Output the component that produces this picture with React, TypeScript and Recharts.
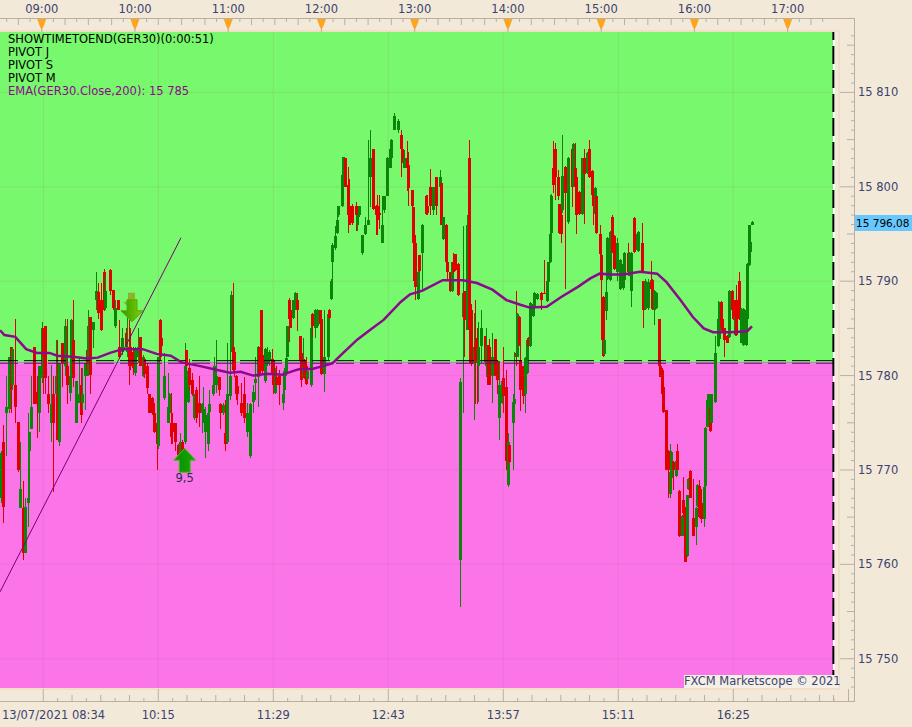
import React from 'react';
import { ComposedChart, Bar, Line, XAxis, YAxis, ReferenceArea, ReferenceLine, ReferenceDot } from 'recharts';

// all prices are kept relative to this level, minutes are counted from 08:34
const priceBase = 15780;

// [minute, high, low, open, close]
const candles0834 = [
  [0,-8,-13.5,-13,-8.2],[1,-5.2,-15.6,-7,-13.9],[3,0,-8.5,-4,-3.3],[5,2,-4,-3.5,2],[6,3,-4,3,-1.5],[7,3,-1.5,-1,2.8],
  [9,6,-5,-1,-3.3],[11,-4.9,-10.2,-4.9,-10],[12,-7,-14,-14,-12],[14,-11.2,-19.5,-14,-18.8],[15,-13,-18.8,-18.8,-13.9],
  [17,-4,-16,-13.5,-13],[18,-6,-13.5,-8,-6],[19,0,-5.7,-5.7,-3.3],[21,3,-3,3,-3],[23,0,-6.6,-1.7,-3],[24,1,-6,-4,1],
  [26,5.7,-0.8,-0.3,5],[27,5,-1.9,5,2],[28,5.2,-2,5.2,-0.3],[30,0,-4,-2,-3],[32,1.1,-7,-5,-3],[33,0,-12.3,-2,-5],
  [35,3.8,-3.6,-2,0],[36,3.8,-6.8,-2.2,-6.8],[37,1.3,-7.5,-7,1.3],[39,3.4,-1.2,3.4,1.3],[41,6,0,1,5.2],[42,6,-3,1,-1],
  [44,1,-2.7,-1.8,0],[45,6,0,1,5.9],[46,8,-1.2,3.8,-0.3],[48,-0.6,-5,-5,-0.6],[50,2,-2.9,-2.9,-1.9],[51,0.8,-5,-1,-4.2],
  [52,0.8,-3.6,-2.9,-2],[54,1.3,-3.6,0,1.3],[55,2.7,0,2.7,0.6],[56,7,0,0.1,5.2],[57,6.2,-1.9,6.2,0.1],[59,5.7,2.9,4.8,5.7],
];
const candles0935 = [
  [61,11,7,8,9],[62,9.8,6,8.9,6.6],[64,9.8,4.7,8,4.8],[66,11.3,6.8,11,7],[67,10.5,7,7.2,9],[70,11.3,8.5,11.2,9],
  [72,9,6.9,9.1,7.2],[73,8,5,5.2,7.2],[75,8,6.9,8,7],[76,5.9,1.8,3,2],[78,5,2.2,2.5,4],[80,5,2.7,4.5,3],[81,7,2,2.5,3],
  [82,6,-1,3,1],[83,5,0.6,3,1],[85,3,0.1,2.5,0.8],[86,3,0,0.3,2.7],[88,5,1.3,2,3],[89,4.1,1,4.1,1],[91,2.2,-0.1,0,2],
  [92,1.8,-0.3,1.8,0.2],[94,1.3,-1.9,1,-1.3],[95,-1.9,-4,-1.9,-4],[97,-2.3,-4.2,-2.4,-4],[98,-2.9,-6.1,-4,-6],
  [100,-5,-10,-5,-7.2],[101,2,-7.8,-7.5,2],[102,6,1.7,5.9,2],[103,4,3,4,3.1],[105,2.4,-2.6,-2.4,0],[107,0.3,-5,-5,-3.3],
  [108,-1.8,-4,-4,-2],[109,-1.8,-7.2,-5,-6.5],[110,-4,-7.2,-5,-6],[112,-5,-8,-5,-7],[114,-7.2,-8.6,-7.4,-8.4],
  [115,-6.1,-8.6,-8.4,-7],[116,-6.8,-8.6,-7,-8.4],[118,3.4,-7.2,-7,1],[119,2.7,1,2.7,1],
];
const candles1054 = [
  [120,0.6,-2.9,-2.8,0.5],[121,1.8,-1.5,0.8,-1],[123,0.3,-2.2,-0.5,-2],[124,-1.9,-4.7,-4.5,-2],[125,-1.2,-5,-1.5,-4.5],
  [127,0,-5.4,-2.9,-4],[129,-2.9,-6.1,-4,-3],[130,-1.2,-5,-4.8,-3.5],[131,-3.3,-8.7,-6,-4.2],[133,-3.3,-8,-7.2,-4],
  [134,-1.5,-4,-3.9,-3],[136,0,-2.2,-2,-1],[137,2,-1.2,-1,1],[138,3.8,-1.8,-1,0],[140,-0.1,-2.2,-0.2,-1.5],
  [141,-2.9,-5.7,-3,-4],[143,-2.9,-4.2,-4,-3.1],[144,-2.6,-8,-6.1,-7.2],[145,3.4,-7.2,-7,-2],[147,4,-2.6,-2.2,0],
  [148,9,2.5,2.6,8.5],[149,9.8,0.5,3,0.6],[150,2.5,-0.1,2.5,0.6],[151,0.1,-2.6,0,-2],[152,-1,-3.1,-1.1,-2],
  [154,-0.8,-4.3,-2.9,-4],[156,-0.1,-5,-2,-4.5],[158,-2.9,-6.5,-6,-4],[160,-2.9,-8.7,-8.5,-3],[162,-1,-4,-2.8,-1.7],
  [163,2,-2.6,-0.8,-0.4],[165,3.1,-3.3,-0.1,3],[166,3,0.1,3,0.1],[167,7,2,7,2],[168,2.2,0.1,2.2,0.5],[170,2.9,-0.8,-0.6,2.8],
  [171,3,1,1.2,2.5],[172,2.7,1,1.5,2.5],[174,2.8,-1,1.8,0.3],[175,1.8,-2,1.7,-1],[176,0.8,-2,-1.8,0],[177,1,-1,-0.1,-1],
  [179,0.6,-3.1,0,-1],[181,-1,-3.6,-2.9,-2],[182,0.8,-1.9,-1.5,0.5],[183,2,0,0.2,1.9],[184,5.2,2,2,5.2],[185,8.2,3.6,8,6],
  [186,7,5,7,5],[188,8,6,6.1,8],[189,8.9,7,7.1,8.8],[190,8.7,4.7,8,7],[192,4.2,1.3,4.2,1.5],[193,2.5,-1.2,2.4,-0.5],
  [194,4,-0.3,-0.2,1],[195,1.8,-0.4,1.7,-0.3],[196,2,-1,1,-0.9],[197,0.6,-0.5,-0.4,0.5],[199,5.2,-1.2,-1,5],[200,6.6,4.1,6.5,5.2],
  [202,7.1,4,5,7],[203,7.1,5,5.2,7],[205,7,4,7,5.5],[206,6.3,0.1,6,0.2],[208,7,-1.7,0.2,2],[210,6.6,1.7,2,6.5],[211,7.1,6,7,6.1],
];
const candles1206 = [
  [212,10.2,8,8.1,10],[213,14,10,12,13.8],[215,15.8,13.3,13.5,14.8],[216,17,15,15.1,16.5],[217,18,16.8,17,18],[219,21.3,17.9,18,21.2],
  [220,23.2,21,21,23.2],[221,23.1,20,23,20],[223,22.1,15.1,20.2,17],[224,20.8,16,18,16],[226,18.2,16,18,16.2],[228,18.4,15.3,18,17],
  [229,17,15.3,16,17],[230,18,16.8,17,18],[232,14.9,12.8,13,14.9],[234,16.8,14.9,15,16],[236,25,16,16,16.5],[237,26,17.9,21,23],
  [239,24,17.5,24,17.6],[241,18.1,14.9,18,17],[242,19.1,14.9,18,16.5],[243,19.1,15.5,17.2,17],[245,19,14,14,16],[246,19,17.2,17.5,19],
  [248,23.2,19,19,23],[250,24.1,22,22,24],[251,25.1,23,23,25],[253,27.8,26,26,27.5],[255,27.2,25.7,26,27],[257,26,21,25.5,24],
  [258,24,22.5,24,22.6],[259,23.9,22,22,23],[261,24.8,19.6,23,22],[262,23.7,18,22.3,19.9],[264,19.7,16.8,19.7,18],[265,17.9,10,17.9,14],
  [266,14.9,8,14,9.4],[268,11.5,8,8.1,11],[269,12.8,11,12.8,11.1],[271,16.1,9,13,16],[273,19.1,17,19,17.1],[274,19.1,17,18,17.2],
  [276,21.9,17,20,18],[278,20,17,17.5,20],[280,21,17,21,18],[282,21.8,19.5,20,21],[283,20.4,16,20.4,16],[284,16.8,14.4,14.5,16.8],
  [286,16.1,11.2,16,12],[287,14,10.1,12,11],[289,11,8.9,11,9],[290,12,8.9,9,12],[291,13,10.8,12,11],[292,12.9,11.1,12.9,11.2],
  [294,11.9,8.4,11.8,8.5],
];
const candles1329 = [
  [295,-0.3,-24.5,-19.5,-0.7],[297,15.8,-4,6.2,8.7],[298,9,2,9,5.9],[300,17,4.8,4.8,16],[301,25,1.3,23.1,4.9],[302,7.6,1,7,1.2],
  [304,6.6,-4.7,1.3,3],[305,8,-3,3.5,1.5],[306,5,-3,4,1.3],[307,5.7,-2.8,1,3],[309,6.9,1.3,3.1,5],[311,4.2,1.3,4.2,1.4],[312,5,-0.1,1,3],
  [313,3.2,-1,3.2,-1],[314,3.9,-1,3,-1],[316,4.5,-2.9,0,2],[318,3.9,0,3.9,0],[319,1.6,-1.9,1.5,-0.5],[320,1.5,-6.8,-4.5,-1],
  [322,-0.5,-3,-2.9,-0.6],[323,3,-4,-0.3,-2.2],[325,0.6,-10,-1.2,-9],[326,-6.1,-11.8,-11.6,-7],[327,-7.4,-9.3,-7.4,-9.2],
  [329,-1.9,-10,-5,-2.8],[330,2.5,-3.7,-3,-2.5],[331,9,1,2.4,2],[332,6.6,2,2,6.5],[333,6.3,3.1,6.2,3.2],[334,5,-3.8,1.6,-1.5],
  [336,1,-3,1,-2.2],[337,2,-4,-2,1.9],[338,3.9,0.2,0.3,3.8],[339,4.1,3,4,3.1],[340,7.8,3,3.1,7.7],[342,7.8,6.2,6.3,7.6],
  [343,8.9,7.2,7.3,8.8],[345,8.7,8,8.1,8.6],[347,8.9,7,8.8,8],[349,12.2,8.7,8.8,8.7],[351,10.8,7.8,7.9,10],[352,12,9.8,9.9,12],
  [353,19.1,11.9,12,15],[354,19.2,15,15.1,19],[355,24.8,19.3,22,20.2],[356,24.6,18.6,24,21],[358,21.8,18.6,21,19],[359,18.2,15,18.2,15.1],
  [360,19.8,14,17,15],[361,25.5,17.2,17.5,21.1],[363,22.2,9.2,22.1,19.3],[365,23.2,16.1,16.3,23],[367,24,17.9,24,20],[368,24.6,20,20.1,24.5],
  [369,24.6,19,22,20],[370,21,15,21,17],[372,19.6,17,19.5,17.1],[374,23,17,17.1,23],[375,24,16.1,23,21.4],[377,23.7,21.4,21.5,23.6],
  [378,25,20.9,24,21],[380,21.8,19,21.7,19.1],[381,20.4,15.9,19,18],[382,20,17,17.1,19.9],[383,19,15,19,15.1],
];
const candles1457 = [
  [385,16,12.8,15,12.9],[386,14.9,3.8,12.8,10.1],[387,8.4,2,8.3,2.1],[388,3.9,2.2,2.3,3.8],[389,10.2,5.9,6.8,8.9],[390,14.7,10.1,10.2,14.6],
  [392,15.3,10,10.1,15.2],[393,17,13,16.8,13.1],[394,14.9,11.2,14.8,11.3],[396,14.6,10,11,14],[398,12.3,9.1,9.2,12.2],[400,11.9,9.1,9.3,11.8],
  [401,13.1,10,10.1,13],[403,14,10.9,13,11],[404,13.1,10.5,10.6,13],[405,13.1,7.3,9,13],[407,16.8,13,16.7,13.1],[409,15.1,13.2,13.3,15],
  [410,15.3,13.1,13.2,15.2],[412,16.2,10.9,14,11],[413,10,5,10,7],[414,10.2,7,7.1,10],[416,10.2,7,7.2,9.9],[418,12.1,9.1,10.1,9.2],
  [419,10.2,7,10.1,7.1],[420,9.1,5.4,7,9],[421,8.9,7.1,7.2,8.8],[423,6,0.9,6,1],[424,1,-0.2,1,-0.1],[425,0.8,-1.9,0.6,-1.9],
  [426,-1.2,-4,-1.2,-3.9],[428,-3.7,-10,-3.7,-10],[429,-7.9,-13,-8,-10],[430,-7.2,-13,-12.5,-10.2],[431,-8,-11,-10.9,-8.1],
  [432,-9.1,-12.1,-9.2,-10],[434,-8.9,-10.7,-10.6,-9],[435,-7.2,-10,-8,-10],[436,-12.1,-17.1,-12.2,-17],[438,-14.8,-17,-17,-14.9],
  [439,-10.7,-15,-13.2,-14.6],[440,-13.9,-19.8,-14,-19.7],[441,-12.6,-19.2,-19.1,-12.7],[442,-10.9,-12.1,-12,-11],[443,-10,-13,-10.1,-13],
  [445,-11,-17,-15.1,-17],[447,-13.9,-17.9,-16,-14],[448,-11.5,-13.9,-13.8,-11.6],[449,-11.1,-15.1,-11.7,-15],[450,-12,-15.6,-13.5,-15.2],
  [452,-11.7,-16,-15.2,-11.8],[453,-5.5,-11.8,-11.7,-5.6],[454,-2.5,-5.5,-5.4,-2.6],[455,-1.9,-3.6,-3.5,-2],[456,-2.8,-6,-3.3,-5.9],
  [457,-1.9,-5,-5,-2],[459,4.2,-2.9,-2.8,2.4],[461,7.9,3,3.1,6],[462,7.8,3.8,3.9,7.7],[463,7.9,5,7.8,5.1],[464,6.1,4.5,6,4.6],
  [465,5,2,5,3.8],[467,4.3,3.4,4.2,3.5],[468,9.1,4,4.1,9],[470,9.1,6.8,9,6.9],[471,8,5.9,8,6],[472,6.3,4.2,4.3,6.2],[473,9.6,4.2,8,4.3],
  [475,11,5.9,10,6],[476,7.2,3.4,3.5,7.1],[477,7.2,3.1,3.2,7.1],[479,7,3.1,3.2,7],[480,11.9,5.9,6,11.8],[481,16,11.6,11.7,15.9],
  [482,14.2,13,13.1,14.1],[483,16.4,15.9,16,16.3],
];

const emaMinutes = [-0.8,2,9,16,23,31,36,46,55,62,70,78,91,100,109,116,128,139,147,154,162,171,181,188,192,200,207,213,220,229,237,246,257,263,271,284,297,306,316,325,334,340,351,360,371,379,385,392,400,411,422,428,437,445,452,458,469,480,483];
const emaValues = [4.8,4.3,4.1,2.8,2.4,2.4,2.1,2,1.8,1.9,2.4,2.8,2.8,2.3,2.1,1.4,1,0.6,0.3,0.4,0,0.2,0.1,0.5,0.7,0.7,1,1.3,2.4,3.8,4.8,5.9,7.8,8.6,9,10.1,10.1,9.8,9.1,8,7.5,7.2,7.3,8.3,9.4,10.3,10.8,10.7,10.7,11,10.8,9.9,8,6.2,5,4.6,4.6,4.7,5.2];

const hourMinutes = [26,86,146,206,266,326,386,446,506];
const hourLabels = ['09:00','10:00','11:00','12:00','13:00','14:00','15:00','16:00','17:00'];
const dateMinutes = [0,101,175,249,323,397,471];
const dateLabels = ['13/07/2021 08:34','10:15','11:29','12:43','13:57','15:11','16:25'];
const gridMinutes = [27,101,175,249,323,397,471];
const priceTicks = [15750,15760,15770,15780,15790,15800,15810];
const pivotTop = 15781.58;
const pivotBottom = 15781.3;
const zoneEdge = 15781.45;
const lastPrice = '15 796,08';
const legendLines = ['SHOWTIMETOEND(GER30)(0:00:51)','PIVOT J','PIVOT S','PIVOT M'];
const emaLabel = 'EMA(GER30.Close,200): 15 785';

const minMinute = -0.84;
const maxMinute = 535.8;
const minPrice = 15746.9;
const maxPrice = 15816.4;

const rows = [...candles0834, ...candles0935, ...candles1054, ...candles1206, ...candles1329, ...candles1457].map(
  ([minute, high, low, open, close]) => ({
    minute,
    range: [priceBase + low, priceBase + high],
    high: priceBase + high,
    low: priceBase + low,
    open: priceBase + open,
    close: priceBase + close,
  })
);
const emaRows = emaMinutes.map((minute, i) => ({ minute, ema: priceBase + emaValues[i] }));

const topTicks: number[] = [];
for (let m = 3.5; m < maxMinute; m += 7.5) topTicks.push(m);
const bottomTicks: number[] = [0];
for (let m = 27; m < maxMinute; m += 9.25) bottomTicks.push(m);
const sideTicks: number[] = [];
for (let p = 15747; p <= 15816; p++) sideTicks.push(p);

const FONT = '"DejaVu Sans", sans-serif';
const AXIS_TEXT = '#3b4372';
const RULE = '#b9b0a2';
const TAN = '#f2e9d8';
const EDGE = '#f0dfc6';
const RED = '#e00000';
const GREEN = '#0a850a';
const PURPLE = '#8b0a8b';
const TRIM = 'rgba(170,90,90,0.13)';

const Candle = (props: any) => {
  const { x, y, width, height, payload } = props;
  const cx = Math.round(x + width / 2);
  const { high, low, open, close } = payload;
  const perUnit = height / (high - low || 1);
  const top = y + (high - Math.max(open, close)) * perUnit;
  const bodyH = Math.max(Math.abs(open - close) * perUnit, 1);
  const color = close >= open ? GREEN : RED;
  return (
    <g shapeRendering="crispEdges">
      <rect x={cx} y={y} width={1} height={Math.max(height, 1)} fill={color} />
      <rect x={cx - 1} y={top} width={3} height={bodyH} fill={color} />
    </g>
  );
};

const TopTick = (props: any) => {
  const { x, payload } = props;
  const i = hourMinutes.indexOf(payload.value);
  const major = (payload.value - 26) % 15 === 0;
  if (i >= 0) {
    return (
      <g>
        <line x1={x} x2={x} y1={18} y2={32} stroke={RULE} />
        <polygon points={`${x - 4.5},19 ${x + 4.5},19 ${x + 2},26 ${x},30 ${x - 2},26`} fill="#ffa41f" />
        <text x={x} y={13} textAnchor="middle" fontSize={11.5} fontFamily={FONT} fill={AXIS_TEXT}>{hourLabels[i]}</text>
      </g>
    );
  }
  return <line x1={x} x2={x} y1={18} y2={major ? 25 : 22} stroke={RULE} />;
};

const BottomTick = (props: any) => {
  const { x, payload } = props;
  const i = dateMinutes.indexOf(payload.value);
  const step = Math.round((payload.value - 27) / 9.25);
  const len = gridMinutes.includes(payload.value) ? 12 : step % 2 === 0 ? 6 : 3;
  return (
    <g>
      {payload.value !== 0 && <line x1={x} x2={x} y1={701 - len} y2={701} stroke={RULE} />}
      {i >= 0 && (
        <text x={i === 0 ? 2 : x} y={719} textAnchor={i === 0 ? 'start' : 'middle'} fontSize={11.5} fontFamily={FONT} fill={AXIS_TEXT}>
          {dateLabels[i]}
        </text>
      )}
    </g>
  );
};

const SideTick = (props: any) => {
  const { y, payload } = props;
  const i = priceTicks.indexOf(payload.value);
  const left = i >= 0 ? 840 : payload.value % 5 === 0 ? 847 : 851;
  return (
    <g>
      <line x1={left} x2={854} y1={y} y2={y} stroke={RULE} />
      {i >= 0 && (
        <text x={858} y={y + 4} fontSize={11.5} fontFamily={FONT} fill={AXIS_TEXT}>
          {String(priceTicks[i]).replace(/^(\d\d)/, '$1 ')}
        </text>
      )}
    </g>
  );
};

const DownArrow = (props: any) => {
  const { cx, cy } = props;
  return (
    <g>
      <defs>
        <linearGradient id="downFill" x1="0" y1="0" x2="1" y2="0">
          <stop offset="0" stopColor="#2f9a00" />
          <stop offset="1" stopColor="#86cf06" />
        </linearGradient>
      </defs>
      <polygon points={`${cx - 3},${cy - 14} ${cx - 9},${cy - 20} ${cx - 4},${cy - 20} ${cx - 4},${cy - 29} ${cx + 3},${cy - 29} ${cx + 3},${cy - 20} ${cx + 5},${cy - 20}`} fill="#8fb02a" />
      <polygon points={`${cx},${cy} ${cx - 11},${cy - 11} ${cx - 5},${cy - 11} ${cx - 5},${cy - 22} ${cx + 5},${cy - 22} ${cx + 5},${cy - 11} ${cx + 11},${cy - 11}`} fill="url(#downFill)" stroke="#4fae06" />
    </g>
  );
};

const UpArrow = (props: any) => {
  const { cx, cy } = props;
  return (
    <g>
      <defs>
        <linearGradient id="upFill" x1="0" y1="0" x2="1" y2="0">
          <stop offset="0" stopColor="#0a8a0a" />
          <stop offset="1" stopColor="#18a800" />
        </linearGradient>
      </defs>
      <polygon points={`${cx},${cy} ${cx + 11},${cy + 12} ${cx + 5.5},${cy + 12} ${cx + 5.5},${cy + 24} ${cx - 5.5},${cy + 24} ${cx - 5.5},${cy + 12} ${cx - 11},${cy + 12}`} fill="url(#upFill)" stroke="#45c21a" />
      <text x={cx} y={cy + 34} textAnchor="middle" fontSize={11.5} fontFamily={FONT} fill="#262c52">9,5</text>
    </g>
  );
};

const abs = (left: number, top: number, width: number, height: number, background: string): React.CSSProperties => ({
  position: 'absolute', left, top, width, height, background,
});

export default function App() {
  return (
    <div style={{ position: 'absolute', left: 0, top: 0, width: 912, height: 727, background: TAN, overflow: 'hidden', fontFamily: FONT }}>
      <div style={abs(0, 18, 854, 1, RULE)} />
      <div style={abs(0, 701, 854, 1, RULE)} />
      <div style={abs(854, 18, 1, 684, RULE)} />
      <div style={abs(848, 689, 1, 12, RULE)} />
      <div style={abs(833, 695, 1, 6, RULE)} />
      <div style={abs(0, 30, 840, 2, EDGE)} />
      <div style={abs(838, 30, 2, 660, EDGE)} />
      <div style={abs(0, 688, 840, 2, EDGE)} />
      <div style={abs(833, 32, 2, 656, '#ffffff')} />
      <div style={{ position: 'absolute', left: 0, top: 0 }}>
        <ComposedChart width={912} height={727} data={rows} margin={{ top: 0, right: 0, bottom: 0, left: 0 }}>
          <XAxis xAxisId="top" orientation="top" dataKey="minute" type="number" domain={[minMinute, maxMinute]} allowDataOverflow height={32}
            ticks={topTicks} interval={0} axisLine={false} tickLine={false} tick={<TopTick />} />
          <XAxis xAxisId="bottom" dataKey="minute" type="number" domain={[minMinute, maxMinute]} allowDataOverflow height={39}
            ticks={bottomTicks} interval={0} axisLine={false} tickLine={false} tick={<BottomTick />} />
          <YAxis orientation="right" type="number" domain={[minPrice, maxPrice]} allowDataOverflow width={78}
            ticks={sideTicks} interval={0} axisLine={false} tickLine={false} tick={<SideTick />} />

          <ReferenceArea xAxisId="bottom" x2={535.2} y1={zoneEdge} y2={maxPrice} fill="#78f86c" fillOpacity={1} stroke="none" />
          <ReferenceArea xAxisId="bottom" x2={535.2} y1={minPrice} y2={zoneEdge - 0.15} fill="#fb74e8" fillOpacity={1} stroke="none" />
          <ReferenceArea xAxisId="bottom" x2={535.2} y1={zoneEdge - 0.15} y2={zoneEdge} fill="#b08cb0" fillOpacity={1} stroke="none" />
          {gridMinutes.map(m => <ReferenceLine key={m} xAxisId="bottom" x={m} stroke={TRIM} />)}
          {priceTicks.map(p => <ReferenceLine key={p} xAxisId="bottom" y={p} stroke={TRIM} />)}
          <ReferenceLine xAxisId="bottom" y={pivotTop} stroke="#000" strokeDasharray="18 6" />
          <ReferenceLine xAxisId="bottom" y={pivotBottom} stroke="#800080" strokeDasharray="18 6" />
          <ReferenceLine xAxisId="bottom" x={535.4} stroke="#000" strokeWidth={2} strokeDasharray="18 6" />

          <Bar xAxisId="bottom" dataKey="range" barSize={3} shape={<Candle />} isAnimationActive={false} />
          <Line xAxisId="bottom" data={emaRows} dataKey="ema" type="linear" stroke={PURPLE} strokeWidth={2.5} dot={false} activeDot={false} isAnimationActive={false} />
          <ReferenceLine xAxisId="bottom" stroke="#7a007a" segment={[{ x: minMinute, y: 15757.08 }, { x: 115.6, y: 15794.6 }]} />
          <ReferenceDot xAxisId="bottom" x={84.1} y={15785.7} shape={<DownArrow />} />
          <ReferenceDot xAxisId="bottom" x={118} y={15772.3} shape={<UpArrow />} />
        </ComposedChart>
      </div>
      <div style={{ position: 'absolute', left: 8, top: 33, fontSize: 11.5, lineHeight: '13px', whiteSpace: 'nowrap', color: '#000' }}>
        {legendLines.map(t => <div key={t}>{t}</div>)}
        <div style={{ color: PURPLE }}>{emaLabel}</div>
      </div>
      <div style={{ position: 'absolute', left: 855, top: 215, width: 57, height: 16, background: '#66c8ff', color: '#000', fontSize: 10.5, lineHeight: '16px', paddingLeft: 1, whiteSpace: 'nowrap', overflow: 'hidden', boxSizing: 'border-box' }}>
        {lastPrice}
      </div>
      <div style={{ position: 'absolute', left: 684, top: 675, width: 155, height: 13, background: '#f5f0e6', color: AXIS_TEXT, fontSize: 11.5, lineHeight: '13px', whiteSpace: 'nowrap' }}>
        FXCM Marketscope © 2021
      </div>
    </div>
  );
}
